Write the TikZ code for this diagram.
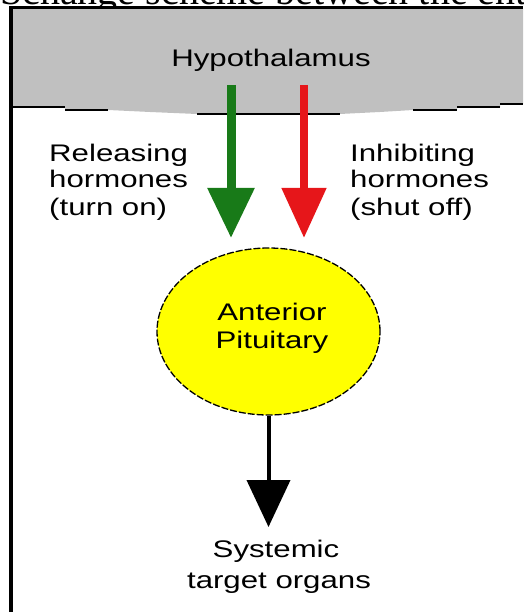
\documentclass[tikz,border=0pt]{standalone}
\usepackage{fontspec}
\setmainfont{Liberation Serif}
\newfontfamily\pixfont[FakeStretch=1.3]{Liberation Sans}
\usetikzlibrary{arrows.meta,shapes.geometric}
\definecolor{hgray}{RGB}{192,192,192}
\definecolor{hgreen}{RGB}{24,122,24}
\definecolor{hred}{RGB}{230,22,26}
\definecolor{hyellow}{RGB}{255,255,0}
\tikzset{
  lbl/.style={font=\pixfont\fontsize{24}{26}\selectfont, inner sep=0pt, anchor=base},
  lbll/.style={lbl, anchor=base west},
  edgeline/.style={line width=1.6pt, black},
}
\begin{document}
\begin{tikzpicture}[x=1pt, y=-1pt]
\useasboundingbox (0,0) rectangle (523,612);
% clipped caption at the very top (only the bottom of its letters shows)
\begin{scope}
  \clip (0,0) rectangle (523,7);
  \node[anchor=base west, inner sep=0pt, font=\fontsize{40}{44}\selectfont] (caption) at (0,5) {Schange scheme between the ent};
\end{scope}
% gray hypothalamus band
\fill[hgray] (13,9) -- (523,9) -- (523,104) -- (500,104) -- (500,107) -- (457,107) -- (457,110)
  -- (413,110) -- (380,112) -- (340,114) -- (197,114) -- (150,112) -- (108,110) -- (65,110)
  -- (65,107) -- (13,107) -- cycle;
% frame
\fill[black] (9,6.5) rectangle (523,9.5);
\fill[black] (9,6.5) rectangle (13,612);
% stepped lower edge of the band
\draw[edgeline] (13,107) -- (65,107);
\draw[edgeline] (65,110) -- (108,110);
\draw[edgeline] (197,114) -- (340,114);
\draw[edgeline] (413,110) -- (457,110);
\draw[edgeline] (457,107) -- (500,107);
\draw[edgeline] (500,104) -- (523,104);
% title
\node[lbl] (hyp) at (271,67) {Hypothalamus};
% arrows from hypothalamus
\coordinate (gs) at (231,85);
\coordinate (ge) at (231,238);
\coordinate (rs) at (304,85);
\coordinate (re) at (304,238);
\draw[hgreen, line width=9pt, -{Triangle[length=50pt,width=45pt]}] (gs) -- (ge);
\draw[hred, line width=8pt, -{Triangle[length=50pt,width=43pt]}] (rs) -- (re);
% side labels
\node[lbll] (rel1) at (49,162) {Releasing};
\node[lbll] (rel2) at (49,188) {hormones};
\node[lbll] (rel3) at (49,215) {(turn on)};
\node[lbll] (inh1) at (350,162) {Inhibiting};
\node[lbll] (inh2) at (350,188) {hormones};
\node[lbll] (inh3) at (350,215) {(shut off)};
% anterior pituitary
\node[ellipse, draw, fill=hyellow, line width=1.3pt, dash pattern=on 7pt off 2pt,
      minimum width=223pt, minimum height=167pt, inner sep=0pt] (ant) at (268.5,331.5) {};
\node[lbl] (ant1) at (272,320) {Anterior};
\node[lbl] (ant2) at (272,348) {Pituitary};
% arrow to target organs
\coordinate (btip) at (268.5,527);
\draw[black, line width=4pt, -{Triangle[length=47pt,width=43pt]}] (ant.south) -- (btip);
\node[lbl] (sys1) at (276,557) {Systemic};
\node[lbl] (sys2) at (279,588) {target organs};
\end{tikzpicture}
\end{document}
